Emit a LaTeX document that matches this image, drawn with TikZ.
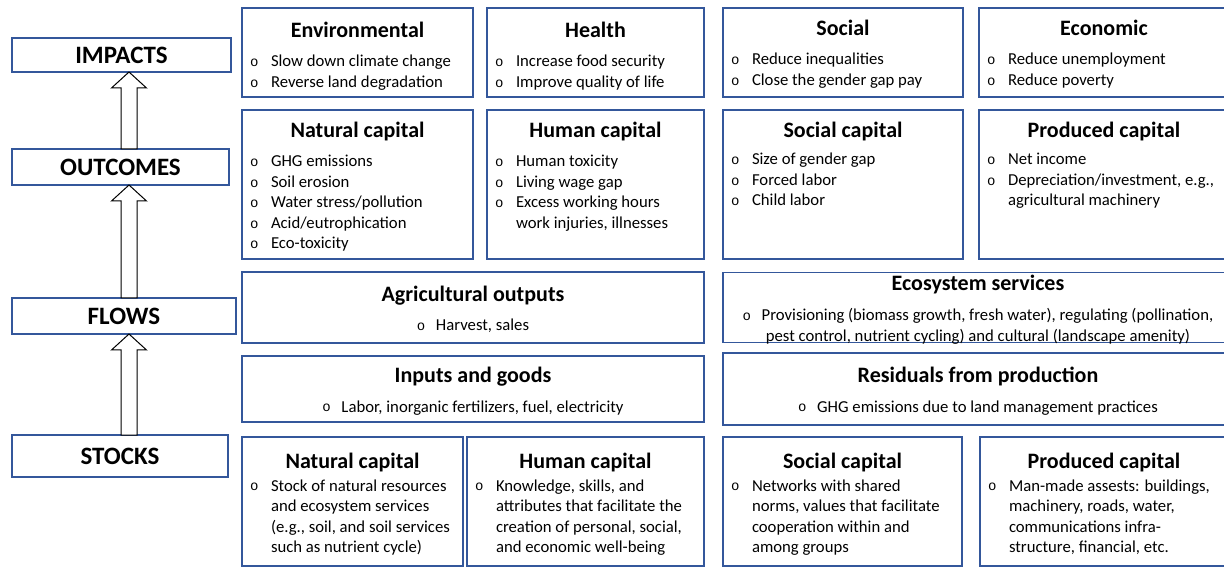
\documentclass[tikz,border=0pt]{standalone}
\usepackage{fontspec}
\setmainfont{Carlito}
\newfontfamily\bulfont{Liberation Mono}
\usepackage{tikz}
\usetikzlibrary{positioning, calc}
\definecolor{boxblue}{RGB}{52,87,155}

\newcommand{\bul}{\raisebox{0.4pt}{\bulfont\fontsize{14}{14}\selectfont o}}
\newcommand{\headfont}{\fontsize{22}{26}\selectfont\bfseries}
\newcommand{\itm}[1]{\par\hangindent=21pt\hangafter=1\noindent\hbox to 21pt{\bul\hss}#1\par}
\newcommand{\citm}[1]{\par{\centering\noindent\hbox to 19pt{\bul\hss}#1\par}}
\newcommand{\boxbody}[6]{%
	\vbox to #2pt{\hsize=#1pt\leftskip=8pt\rightskip=-40pt plus 1fil
		\parindent=0pt\parfillskip=0pt plus 1fil\baselineskip=20.5pt\lineskiplimit=-100pt\lineskip=0pt
		\hbox to #1pt{\hss\rule{0pt}{#3pt}\headfont #5\hss}%
		\vskip\dimexpr #4pt-#3pt-20.5pt\relax
		#6\par\vss}}

\begin{document}
\begin{tikzpicture}[x=1pt, y=-1pt,
	card/.style={draw=boxblue, line width=1.6pt, inner sep=0pt, outer sep=0pt, font=\fontsize{16.7}{20.5}\selectfont},
	stage/.style={draw=boxblue, line width=1.6pt, inner sep=0pt, outer sep=0pt, minimum height=36pt, font=\fontsize{25}{28}\selectfont\bfseries},
	hollow/.style={draw=black, fill=white, line width=1pt}]

	\useasboundingbox (0,0) rectangle (1224,569);
	\clip (0,0) rectangle (1224,569);

	\node [stage, minimum width=219pt, minimum height=34pt, anchor=north west] (IMP) at (12,38) {IMPACTS};
	\node [stage, minimum width=217pt] (OUT) [below=77pt of IMP.south west, anchor=north west] {OUTCOMES};
	\node [stage, minimum width=224pt] (FLW) [below=113pt of OUT.south west, anchor=north west] {FLOWS};
	\node [stage, minimum width=216pt, minimum height=42pt] (STK) [below=101pt of FLW.south west, anchor=north west] {STOCKS};

	\coordinate (AX) at (129,0);
	\foreach \lo/\hi in {STK/FLW, FLW/OUT, OUT/IMP}
		\draw [hollow] ($(\lo.north -| AX)+(-8,0)$) -- ($(\hi.south -| AX)+(-8,16)$) -- ++(-9.5,0)
			-- (\hi.south -| AX) -- ($(\hi.south -| AX)+(17.5,16)$) -- ++(-9.5,0)
			-- ($(\lo.north -| AX)+(8,0)$) -- cycle;

	\node [card, anchor=north west] (ENV) at (242,8)
		{\boxbody{231}{89}{30}{59}{Environmental}{\itm{Slow down climate change}\itm{Reverse land degradation}}};
	\node [card] (HLT) [right=14pt of ENV]
		{\boxbody{217}{89}{30}{59}{Health}{\itm{Increase food security}\itm{Improve quality of life}}};
	\node [card] (SOC) [right=19pt of HLT]
		{\boxbody{240}{89}{28}{57}{Social}{\itm{Reduce inequalities}\itm{Close the gender gap pay}}};
	\node [card] (ECO) [right=16pt of SOC]
		{\boxbody{250}{89}{28}{57}{Economic}{\itm{Reduce unemployment}\itm{Reduce poverty}}};

	\node [card] (NC) [below=13pt of ENV.south west, anchor=north west]
		{\boxbody{231}{149}{28}{57}{Natural capital}{\itm{GHG emissions}\itm{Soil erosion}\itm{Water stress/pollution}
			\itm{Acid/eutrophication}\itm{Eco-toxicity}}};
	\node [card] (HC) [right=14pt of NC]
		{\boxbody{217}{149}{28}{57}{Human capital}{\itm{Human toxicity}\itm{Living wage gap}
			\itm{Excess working hours\\work injuries, illnesses}}};
	\node [card] (SC) [right=19pt of HC]
		{\boxbody{240}{149}{28}{55}{Social capital}{\itm{Size of gender gap}\itm{Forced labor}\itm{Child labor}}};
	\node [card] (PC) [right=16pt of SC]
		{\boxbody{250}{149}{28}{55}{Produced capital}{\itm{Net income}\itm{Depreciation/investment, e.g.,\\agricultural machinery}}};

	\node [card] (AO) [below=13pt of NC.south west, anchor=north west]
		{\boxbody{462}{71}{30}{59}{Agricultural outputs}{\citm{Harvest, sales}}};
	\node [card] (ES) [right=19pt of AO]
		{\boxbody{510}{70}{18}{48}{Ecosystem services}{\citm{Provisioning (biomass growth, fresh water), regulating (pollination,\\
			pest control, nutrient cycling) and cultural (landscape amenity)}}};
	\node [card] (IG) [below=13pt of AO.south west, anchor=north west]
		{\boxbody{462}{66}{26}{56}{Inputs and goods}{\citm{Labor, inorganic fertilizers, fuel, electricity}}};
	\node [card] (RP) [right=19pt of IG]
		{\boxbody{510}{72}{29}{59}{Residuals from production}{\citm{GHG emissions due to land management practices}}};

	\node [card] (NCS) [below=15pt of IG.south west, anchor=north west]
		{\boxbody{221}{129}{31}{54}{Natural capital}{\itm{Stock of natural resources\\and ecosystem services\\
			(e.g., soil, and soil services\\such as nutrient cycle)}}};
	\node [card] (HCS) [right=4pt of NCS]
		{\boxbody{237}{129}{31}{54}{Human capital}{\itm{Knowledge, skills, and\\attributes that facilitate the\\
			creation of personal, social,\\and economic well-being}}};
	\node [card] (SCS) [right=19pt of HCS]
		{\boxbody{239}{129}{31}{54}{Social capital}{\itm{Networks with shared\\norms, values that facilitate\\
			cooperation within and\\among groups}}};
	\node [card] (PCS) [right=18pt of SCS]
		{\boxbody{248}{129}{31}{54}{Produced capital}{\itm{Man-made assests: buildings,\\machinery, roads, water,\\
			communications infra-\\structure, financial, etc.}}};

\end{tikzpicture}
\end{document}
